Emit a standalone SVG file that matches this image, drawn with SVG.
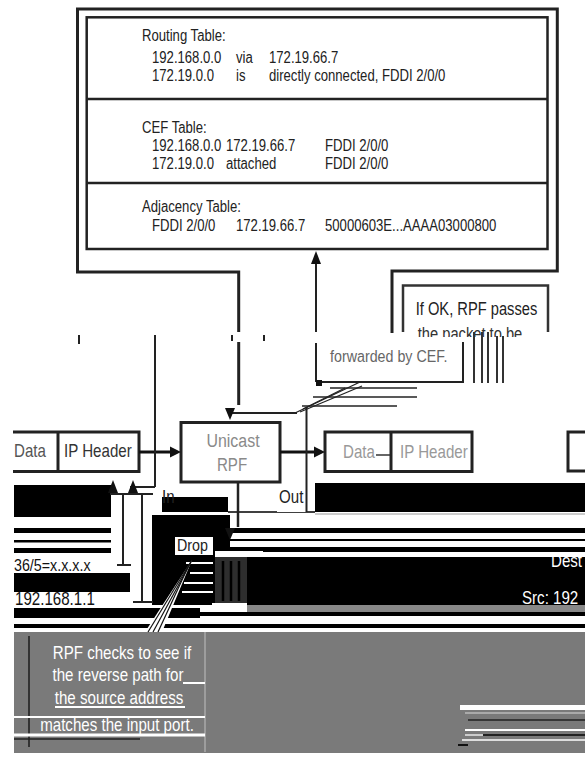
<svg xmlns="http://www.w3.org/2000/svg" width="585" height="757" viewBox="0 0 585 757">
<style>
text{font-family:"Liberation Sans",Arial,sans-serif}
.tb{font-size:16px;fill:#222}
.lb{font-size:18px}
.ln{stroke:#222;stroke-width:3;fill:none}
.thin{stroke:#222;stroke-width:2;fill:none}
.blk{fill:#000}
.wl{stroke:#fff;stroke-width:2}
</style>
<defs>
<clipPath id="cut"><rect x="400" y="320" width="150" height="17"/></clipPath>
</defs>
<rect width="585" height="757" fill="#fff"/>

<!-- corrupted scene bands -->
<g id="bands">
<rect class="blk" x="14" y="485" width="97" height="32"/>
<rect class="blk" x="162" y="497" width="66" height="15"/>
<rect class="blk" x="315" y="483" width="270" height="29"/>
<rect class="blk" x="152" y="515" width="78" height="42"/>
<rect class="blk" x="14" y="528" width="97" height="5"/>
<rect class="blk" x="14" y="540" width="97" height="2.5"/>
<rect class="blk" x="14" y="548" width="97" height="5"/>
<rect class="blk" x="230" y="528" width="355" height="5"/>
<rect class="blk" x="230" y="539" width="355" height="2"/>
<rect class="blk" x="230" y="547" width="355" height="5"/>
<rect class="blk" x="152" y="557" width="433" height="48"/>
<rect class="blk" x="14" y="573" width="116" height="19"/>
<rect fill="#888" x="247" y="605" width="338" height="7"/>
<rect class="blk" x="14" y="608" width="186" height="10"/>
<rect class="blk" x="14" y="612" width="571" height="4"/>
<rect class="blk" x="14" y="624" width="571" height="4"/>
<line x1="228" y1="512" x2="315" y2="512" stroke="#000" stroke-width="1.5"/>
<line x1="315" y1="514" x2="585" y2="514" stroke="#999" stroke-width="1"/>
<rect fill="#7a7a7a" x="14" y="632" width="571" height="121"/>
<g class="wl">
<line x1="186" y1="563" x2="213" y2="563"/>
<line x1="190" y1="573" x2="213" y2="573"/>
<line x1="184" y1="583" x2="213" y2="583"/>
<line x1="182" y1="592" x2="213" y2="592"/>
</g>
</g>

<!-- router frame and tables -->
<g id="frame">
<path class="ln" d="M238.7,332 V272 H77.5 V9 H557.3 V271 H392 V333"/>
<path class="ln" d="M238.7,342 V405"/>
<g stroke="#222" stroke-width="2">
<line x1="79" y1="335" x2="79" y2="344"/>
<line x1="232" y1="335" x2="232" y2="341"/>
<line x1="264" y1="335" x2="264" y2="341"/>
</g>
</g>

<g id="tables">
<rect x="86.7" y="17.3" width="460.8" height="231.7" fill="#fff" stroke="#222" stroke-width="2.5"/>
<line x1="86.7" y1="99" x2="547.5" y2="99" stroke="#222" stroke-width="2.5"/>
<line x1="86.7" y1="183" x2="547.5" y2="183" stroke="#222" stroke-width="2.5"/>
<text class="tb" transform="translate(142 40.5) scale(0.82 1)">Routing Table:</text>
<text class="tb" transform="translate(152 62.7) scale(0.82 1)">192.168.0.0</text>
<text class="tb" transform="translate(236 62.7) scale(0.82 1)">via</text>
<text class="tb" transform="translate(269 62.7) scale(0.82 1)">172.19.66.7</text>
<text class="tb" transform="translate(152 81) scale(0.82 1)">172.19.0.0</text>
<text class="tb" transform="translate(236 81) scale(0.82 1)">is</text>
<text class="tb" transform="translate(269 81) scale(0.82 1)">directly connected, FDDI 2/0/0</text>
<text class="tb" transform="translate(142 132.7) scale(0.82 1)">CEF Table:</text>
<text class="tb" transform="translate(152 150.7) scale(0.82 1)">192.168.0.0</text>
<text class="tb" transform="translate(226 150.7) scale(0.82 1)">172.19.66.7</text>
<text class="tb" transform="translate(325 150.7) scale(0.82 1)">FDDI 2/0/0</text>
<text class="tb" transform="translate(152 169) scale(0.82 1)">172.19.0.0</text>
<text class="tb" transform="translate(226 169) scale(0.82 1)">attached</text>
<text class="tb" transform="translate(325 169) scale(0.82 1)">FDDI 2/0/0</text>
<text class="tb" transform="translate(142 212.3) scale(0.82 1)">Adjacency Table:</text>
<text class="tb" transform="translate(152 230.7) scale(0.82 1)">FDDI 2/0/0</text>
<text class="tb" transform="translate(236 230.7) scale(0.82 1)">172.19.66.7</text>
<text class="tb" transform="translate(325 230.7) scale(0.82 1)">50000603E...AAAA03000800</text>
</g>

<!-- If OK callout -->
<g id="ifok">
<rect x="403" y="285.5" width="145" height="48" fill="#fff"/>
<path d="M403,332 V285.5 H548 V332" stroke="#333" stroke-width="2.5" fill="none"/>
<text class="lb" text-anchor="middle" fill="#222" style="font-size:17.5px" transform="translate(476.5 315) scale(0.84 1)">If OK, RPF passes</text>
<g clip-path="url(#cut)"><text class="lb" text-anchor="middle" fill="#333" style="font-size:17.5px" transform="translate(470 340) scale(0.84 1)">the packet to be</text></g>
<rect x="317" y="338" width="146" height="44" fill="#fff"/>
<path d="M463,342 V382 H316" stroke="#222" stroke-width="2" fill="none"/>
<text class="lb" fill="#666" style="font-size:17px" transform="translate(330 362) scale(0.84 1)">forwarded by CEF.</text>
<g stroke="#333" stroke-width="2">
<line x1="474" y1="332" x2="474" y2="383"/>
<line x1="482" y1="332" x2="482" y2="383"/>
<line x1="488" y1="332" x2="488" y2="383"/>
<line x1="497" y1="336" x2="497" y2="383"/>
<line x1="503" y1="336" x2="503" y2="383"/>
</g>
</g>

<!-- Unicast RPF -->
<g id="rpf">
<rect x="181" y="422.5" width="99" height="59.5" fill="#fff" stroke="#222" stroke-width="3"/>
<text class="lb" text-anchor="middle" fill="#8a8a8a" style="font-size:19px" transform="translate(233 447) scale(0.84 1)">Unicast</text>
<text class="lb" text-anchor="middle" fill="#8a8a8a" transform="translate(232 471) scale(0.84 1)">RPF</text>
</g>

<!-- incoming packet -->
<g id="packet-in">
<path class="ln" d="M13,432 H139 V471.5 H13"/>
<line x1="58" y1="432" x2="58" y2="471.5" stroke="#222" stroke-width="3"/>
<text class="lb" fill="#555" transform="translate(14 457) scale(0.84 1)">Data</text>
<text class="lb" fill="#333" transform="translate(64 457) scale(0.84 1)">IP Header</text>
</g>

<!-- outgoing packet -->
<g id="packet-out">
<rect x="325" y="432" width="147" height="39.5" fill="#fff" stroke="#222" stroke-width="3"/>
<line x1="391" y1="432" x2="391" y2="471.5" stroke="#222" stroke-width="3"/>
<line x1="376" y1="455" x2="390" y2="455" stroke="#333" stroke-width="1.5"/>
<text class="lb" fill="#999" transform="translate(343 458) scale(0.84 1)">Data</text>
<text class="lb" fill="#999" transform="translate(400 458) scale(0.84 1)">IP Header</text>
</g>
<g id="packet-next">
<path class="ln" d="M586,432 H568 V471 H586"/>
</g>

<!-- labels -->
<g id="in-label"><text class="lb" fill="#222" transform="translate(162 503) scale(0.84 1)">In</text></g>
<g id="out-label">
<rect x="277" y="484" width="29" height="28" fill="#fff"/>
<text class="lb" fill="#222" transform="translate(279 503) scale(0.84 1)">Out</text>
</g>

<!-- drop -->
<g id="drop">
<rect x="175" y="537" width="38" height="18" fill="#fff"/>
<text class="lb" fill="#222" style="font-size:17px" transform="translate(177 551) scale(0.84 1)">Drop</text>
<rect x="215" y="551" width="48" height="6" fill="#fff"/>
<rect x="215" y="557" width="32" height="46" fill="#2e2e2e"/>
<g stroke="#000" stroke-width="2.5">
<line x1="223" y1="561" x2="223" y2="601"/>
<line x1="231" y1="561" x2="231" y2="601"/>
<line x1="239" y1="561" x2="239" y2="601"/>
</g>
<rect x="212" y="603" width="35" height="9" fill="#fff"/>
</g>

<!-- addresses -->
<g id="addr-in">
<text class="lb" fill="#111" style="font-size:17px" transform="translate(14 571) scale(0.84 1)">36/5=x.x.x.x</text>
<text class="lb" fill="#111" transform="translate(15 605) scale(0.84 1)">192.168.1.1</text>
</g>
<g id="addr-out">
<text class="lb" fill="#fff" transform="translate(551 567) scale(0.84 1)">Dest</text>
<text class="lb" fill="#fff" transform="translate(522 604) scale(0.84 1)">Src: 192</text>
</g>

<!-- RPF callout -->
<g id="rpf-callout">
<polygon points="192,560 145,632 162,632" fill="#fff"/>
<g stroke="#111" stroke-width="1.2">
<line x1="192" y1="560" x2="148" y2="632"/>
<line x1="191" y1="562" x2="153" y2="632"/>
<line x1="189" y1="565" x2="158" y2="632"/>
</g>
<line x1="29" y1="636" x2="29" y2="747" stroke="#333" stroke-width="2"/>
<line x1="205" y1="632" x2="205" y2="752" stroke="#aaa" stroke-width="1.5"/>
<g class="wl">
<line x1="183" y1="683" x2="205" y2="683"/>
<line x1="55" y1="707" x2="185" y2="707"/>
<line x1="14" y1="717" x2="205" y2="717"/>
<line x1="14" y1="735" x2="205" y2="735" stroke-width="3"/>
</g>
<line x1="14" y1="739" x2="140" y2="739" stroke="#222" stroke-width="1.5"/>
<g fill="#fff" text-anchor="middle">
<text class="lb" transform="translate(122 659) scale(0.84 1)">RPF checks to see if</text>
<text class="lb" transform="translate(118 681) scale(0.84 1)">the reverse path for</text>
<text class="lb" transform="translate(119 704) scale(0.84 1)">the source address</text>
<text class="lb" transform="translate(117 731) scale(0.84 1)">matches the input port.</text>
</g>
</g>

<!-- bottom right lines -->
<g id="br-lines">
<rect x="460" y="705" width="125" height="5" fill="#fff"/>
<line x1="465" y1="713" x2="585" y2="713" stroke="#bbb" stroke-width="1.5"/>
<line x1="468" y1="720" x2="585" y2="720" stroke="#222" stroke-width="1.5"/>
<line x1="465" y1="730" x2="585" y2="730" stroke="#fff" stroke-width="2"/>
<line x1="465" y1="735" x2="483" y2="735" stroke="#ccc" stroke-width="2"/>
<line x1="483" y1="735" x2="585" y2="735" stroke="#222" stroke-width="2"/>
<line x1="462" y1="740" x2="585" y2="740" stroke="#fff" stroke-width="1.5"/>
<line x1="458" y1="745" x2="468" y2="745" stroke="#111" stroke-width="2"/>
</g>

<!-- connectors -->
<g id="connectors">
<line x1="139" y1="452" x2="174" y2="452" stroke="#111" stroke-width="3"/>
<polygon points="181,452 170,446.5 170,457.5" fill="#111"/>
<line x1="280" y1="452" x2="318" y2="452" stroke="#111" stroke-width="3"/>
<polygon points="325,452 314,446.5 314,457.5" fill="#111"/>
<line x1="297" y1="413" x2="230" y2="413" stroke="#222" stroke-width="2"/>
<polygon points="230,420 225,408 235,408" fill="#111"/>
<line x1="238" y1="482" x2="238" y2="527" stroke="#222" stroke-width="2.5"/>
<polygon points="230,540 225,528 235,528" fill="#111"/>
<line x1="316" y1="382" x2="316" y2="343" stroke="#222" stroke-width="2"/>
<line x1="316" y1="332" x2="316" y2="262" stroke="#222" stroke-width="2"/>
<polygon points="316,251 311,264 321,264" fill="#111"/>
<rect x="316" y="380" width="6" height="6" fill="#111"/>
<line x1="306.5" y1="407" x2="306.5" y2="512" stroke="#222" stroke-width="2"/>
<g stroke="#222" stroke-width="1.3">
<line x1="295" y1="413" x2="360" y2="382"/>
<line x1="300" y1="412" x2="362" y2="386"/>
<line x1="303" y1="409" x2="345" y2="388"/>
<line x1="330" y1="388" x2="417" y2="388"/>
<line x1="313" y1="397" x2="417" y2="397"/>
<line x1="302" y1="406" x2="397" y2="406"/>
</g>
<line x1="155" y1="335" x2="155" y2="487" stroke="#222" stroke-width="2"/>
<line x1="130" y1="487" x2="155" y2="487" stroke="#222" stroke-width="2"/>
<line x1="110" y1="494" x2="153" y2="494" stroke="#222" stroke-width="2"/>
<polygon points="113,480 108,493 118,493" fill="#111"/>
<polygon points="133,480 128,493 138,493" fill="#111"/>
<line x1="123" y1="494" x2="123" y2="565" stroke="#222" stroke-width="2"/>
<line x1="117" y1="565" x2="131" y2="565" stroke="#222" stroke-width="2"/>
<line x1="142" y1="494" x2="142" y2="602" stroke="#222" stroke-width="2"/>
<line x1="133" y1="602" x2="153" y2="602" stroke="#222" stroke-width="2"/>
</g>
</svg>
